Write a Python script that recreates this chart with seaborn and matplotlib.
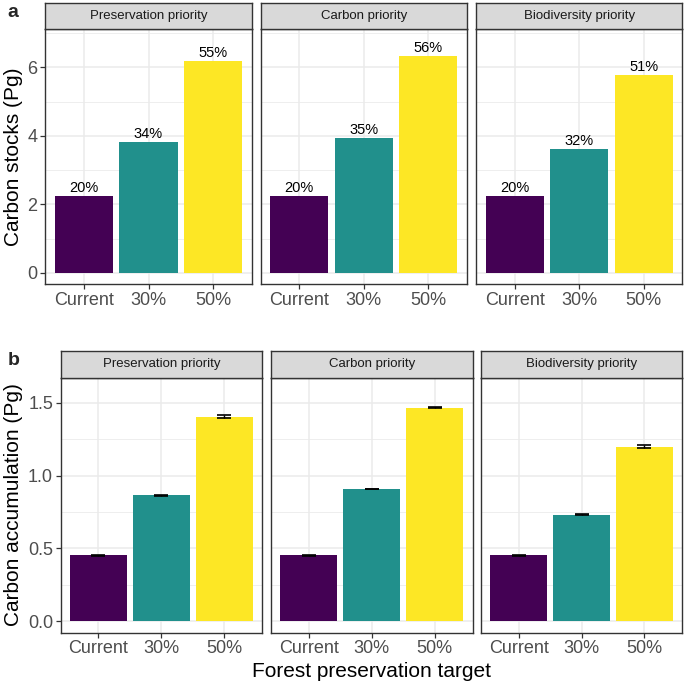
import numpy as np
import pandas as pd
import matplotlib
matplotlib.use("Agg")
import matplotlib.pyplot as plt
import seaborn as sns
from matplotlib.ticker import MultipleLocator

# Data
priorities = ["Preservation priority", "Carbon priority", "Biodiversity priority"]
targets = ["Current", "30%", "50%"]
colors = ["#440154", "#21908C", "#FDE725"]

# panel a: carbon stocks (Pg) and share labels
stock_preservation = [2.24, 3.83, 6.20]
stock_carbon = [2.24, 3.94, 6.34]
stock_biodiversity = [2.24, 3.61, 5.78]
share_preservation = ["20%", "34%", "55%"]
share_carbon = ["20%", "35%", "56%"]
share_biodiversity = ["20%", "32%", "51%"]

# panel b: carbon accumulation (Pg) with error bars
accum_preservation = [0.452, 0.865, 1.406]
accum_carbon = [0.452, 0.908, 1.468]
accum_biodiversity = [0.452, 0.732, 1.200]
err_preservation = [0.005, 0.003, 0.008]
err_carbon = [0.005, 0.003, 0.005]
err_biodiversity = [0.005, 0.003, 0.011]

sns.set_style("white")
plt.rcParams["font.family"] = ["Liberation Sans", "DejaVu Sans"]

W = H = 685
fig = plt.figure(figsize=(6.85, 6.85), dpi=100)


def box(x0, y0, x1, y1):
    # pixel box (top-left origin) -> figure fraction rect
    return [x0 / W, 1 - y1 / H, (x1 - x0) / W, (y1 - y0) / H]


def strip(x0, x1, y0, y1, label):
    s = fig.add_axes(box(x0, y0, x1, y1))
    s.set_facecolor("#D9D9D9")
    s.set_xticks([])
    s.set_yticks([])
    for sp in s.spines.values():
        sp.set_color("#333333")
        sp.set_linewidth(1.0)
    s.text(0.5, 0.5, label, ha="center", va="center", fontsize=9.5,
           color="#1A1A1A", transform=s.transAxes)


def panel(x0, x1, y0, y1, values, ylim, minor, first):
    ax = fig.add_axes(box(x0, y0, x1, y1))
    df = pd.DataFrame({"target": targets, "value": values})
    sns.barplot(data=df, x="target", y="value", hue="target", palette=colors,
                width=0.9, saturation=1, legend=False, linewidth=0, ax=ax)
    ax.set_xlim(-0.6, 2.6)
    ax.set_ylim(*ylim)
    ax.set_axisbelow(True)
    ax.yaxis.set_minor_locator(MultipleLocator(minor))
    ax.grid(which="major", color="#EBEBEB", linewidth=1.1)
    ax.grid(which="minor", axis="y", color="#EBEBEB", linewidth=0.6)
    for sp in ax.spines.values():
        sp.set_color("#333333")
        sp.set_linewidth(1.0)
    ax.set_xlabel("")
    ax.set_ylabel("")
    ax.tick_params(axis="x", which="major", length=3.5, width=0.9, color="#333333",
                   labelsize=13, labelcolor="#4D4D4D", pad=2, bottom=True)
    ax.tick_params(axis="y", which="minor", length=0)
    if first:
        ax.tick_params(axis="y", which="major", length=3.5, width=0.9, color="#333333",
                       labelsize=13, labelcolor="#4D4D4D", pad=2, left=True)
    else:
        ax.tick_params(axis="y", which="major", length=0, labelleft=False)
    return ax


# ---- panel a ----
top_x = [(45, 252), (260.7, 466.7), (476, 682.3)]
stocks = [stock_preservation, stock_carbon, stock_biodiversity]
shares = [share_preservation, share_carbon, share_biodiversity]
for i, (x0, x1) in enumerate(top_x):
    ax = panel(x0, x1, 29, 284, stocks[i], (-0.33, 7.125), 1, i == 0)
    ax.set_yticks([0, 2, 4, 6])
    for j, (v, lab) in enumerate(zip(stocks[i], shares[i])):
        ax.text(j, v + 0.03, lab, ha="center", va="bottom", fontsize=10.5, color="black")
    strip(x0, x1, 3, 29, priorities[i])

# ---- panel b ----
bot_x = [(60.7, 262), (270.7, 472.7), (481, 682)]
accums = [accum_preservation, accum_carbon, accum_biodiversity]
errs = [err_preservation, err_carbon, err_biodiversity]
for i, (x0, x1) in enumerate(bot_x):
    ax = panel(x0, x1, 377.7, 632.7, accums[i], (-0.0805, 1.674), 0.25, i == 0)
    ax.set_yticks([0, 0.5, 1.0, 1.5])
    ax.set_yticklabels(["0.0", "0.5", "1.0", "1.5"])
    ax.errorbar(np.arange(len(targets)), accums[i], yerr=errs[i], fmt="none",
                ecolor="black", elinewidth=1.0, capsize=4.7, capthick=1.2, zorder=5)
    strip(x0, x1, 351.3, 377.7, priorities[i])

# titles and panel letters
fig.text(14 / W, 1 - 156.5 / H, "Carbon stocks (Pg)", rotation=90, ha="center",
         va="center", fontsize=15, color="black")
fig.text(14 / W, 1 - 505 / H, "Carbon accumulation (Pg)", rotation=90, ha="center",
         va="center", fontsize=15, color="black")
fig.text(371.4 / W, 1 - 677 / H, "Forest preservation target", ha="center",
         va="baseline", fontsize=15, color="black")
fig.text(7 / W, 1 - 17 / H, "a", fontsize=14, fontweight="bold", ha="left", va="baseline")
fig.text(8 / W, 1 - 365 / H, "b", fontsize=14, fontweight="bold", ha="left", va="baseline")

fig.savefig("out.png", dpi=100, facecolor="white")
